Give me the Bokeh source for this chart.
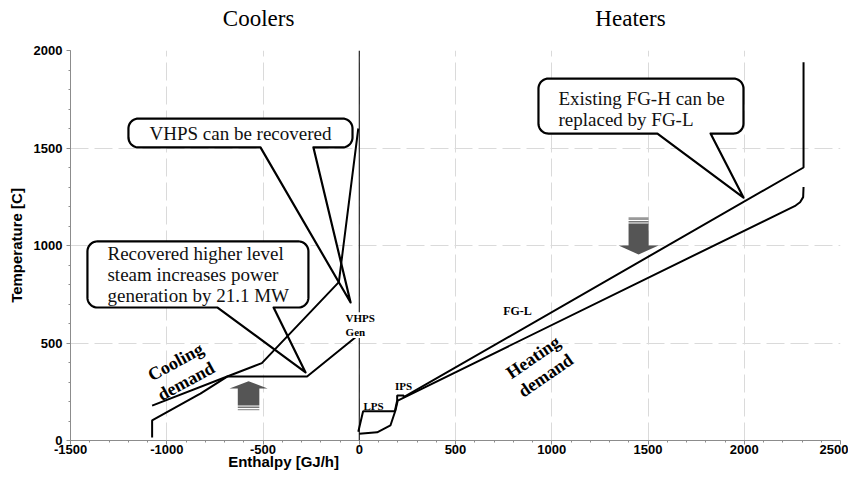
import numpy as np
from bokeh.plotting import figure
from bokeh.models import Label, Span, SingleIntervalTicker, FixedTicker, LinearAxis
from bokeh.embed import file_html
from bokeh.resources import INLINE

# ---------------- data ----------------
# existing hot composite curve (coolers / cooling demand)
hot_x = [-1076, -1076, -842, -825, -686, -271, 0]
hot_y = [15, 103, 231, 240, 328, 328, 545]
# hot curve with recovered higher-level steam (VHPS)
new_hot_x = [-1076, -686, -506, -106, -5]
new_hot_y = [179, 328, 397, 812, 1600]
# cold composite curve (heaters / heating demand)
cold_x = [0, 93, 162, 188, 200, 2267, 2290, 2306, 2308]
cold_y = [35, 42, 77, 154, 205, 1205, 1222, 1248, 1300]
# utility line LPS / IPS / FG-L
fg_x = [-5, 20, 185, 197, 197, 231, 231, 2308, 2308]
fg_y = [45, 150, 150, 205, 231, 231, 222, 1400, 1940]

x_range = (-1500, 2500)
y_range = (0, 2000)
tick_interval = 500
neg_tick_labels = {-1500: "-1500", -1000: "-1000", -500: "-500"}

# section titles above the plot and x-axis title position
section_titles = {-523: "Coolers", 1409: "Heaters"}
x_title = {-393: "Enthalpy [GJ/h]"}

# callouts
callout_texts = ["VHPS can be recovered",
                 "Recovered higher level\nsteam increases power\ngeneration by 21.1 MW",
                 "Existing FG-H can be\nreplaced by FG-L"]
box_x0 = [-1199, -1412, 931]
box_x1 = [-35, -264, 1996]
box_y0 = [1503, 682, 1574]
box_y1 = [1651, 1021, 1856]
tail_x0 = [-513, -736, 1549]
tail_x1 = [-238, -445, 1825]
tip_x = [-45, -279, 1996]
tip_y = [708, 349, 1246]
text_x = [-617, -1308, 1035]
text_y = [1572, 851, 1700]
text_align = ["center", "left", "left"]

# block arrows (up: cooling side, down: heating side)
arrow_x = [-575, 1451]
arrow_tail = [180, 1113]
arrow_neck = [267, 1000]
arrow_tip = [304, 954]
shaft_half = [56, 52]
head_half = [99, 104]
stripe_a0 = [175, 1118]
stripe_a1 = [167, 1126]
stripe_b0 = [162, 1131]
stripe_b1 = [155, 1145]

# small curve labels
lab_text = ["LPS", "IPS", "FG-L"]
lab_x = [74, 230, 822]
lab_y = [177, 282, 662]
lab_size = ["11px", "11px", "12px"]

FW, FH = 770, 390
sx = FW / (x_range[1] - x_range[0])
sy = FH / (y_range[1] - y_range[0])

p = figure(frame_width=FW, frame_height=FH, x_range=x_range, y_range=y_range,
           output_backend="svg", toolbar_location=None,
           min_border_left=70, min_border_top=50, min_border_right=8, min_border_bottom=36)
p.outline_line_color = None

p.xaxis.ticker = SingleIntervalTicker(interval=tick_interval, num_minor_ticks=5)
p.yaxis.ticker = SingleIntervalTicker(interval=tick_interval, num_minor_ticks=5)
p.xaxis.major_label_overrides = neg_tick_labels
for ax in (p.xaxis, p.yaxis):
    ax.axis_line_color = "#8c8c8c"
    ax.major_tick_line_color = "#8c8c8c"
    ax.minor_tick_line_color = "#8c8c8c"
    ax.major_tick_in = 0
    ax.major_tick_out = 4
    ax.minor_tick_in = 0
    ax.minor_tick_out = 2
    ax.major_label_text_font = "Liberation Sans"
    ax.major_label_text_font_style = "bold"
    ax.major_label_text_font_size = "13px"
    ax.major_label_text_color = "black"
p.yaxis.major_label_standoff = 4
p.xaxis.major_label_standoff = 0
p.yaxis.axis_label = "Temperature [C]"
p.yaxis.axis_label_text_font = "Liberation Sans"
p.yaxis.axis_label_text_font_style = "bold"
p.yaxis.axis_label_text_font_size = "15px"
p.yaxis.axis_label_text_color = "black"
p.yaxis.axis_label_standoff = 6


def text_axis(ticks_labels, font, size, style, standoff):
    ax = LinearAxis(ticker=FixedTicker(ticks=list(ticks_labels.keys())),
                    major_label_overrides=ticks_labels)
    ax.axis_line_color = None
    ax.major_tick_line_color = None
    ax.minor_tick_line_color = None
    ax.major_tick_out = 0
    ax.major_tick_in = 0
    ax.major_label_text_font = font
    ax.major_label_text_font_size = size
    ax.major_label_text_font_style = style
    ax.major_label_text_color = "black"
    ax.major_label_standoff = standoff
    return ax


p.add_layout(text_axis(section_titles, "Liberation Serif", "23px", "normal", 20), "above")
p.add_layout(text_axis(x_title, "Liberation Sans", "15px", "bold", -4), "below")

for g in (p.xgrid, p.ygrid):
    g.grid_line_color = "#dadada"
    g.grid_line_dash = "18 6"
    g.grid_line_width = 1

p.add_layout(Span(location=0, dimension="height", line_color="black", line_width=1))

# callouts
for i in range(len(callout_texts)):
    rx = 10 / sx
    ry = min(10 / sy, (box_y1[i] - box_y0[i]) / 2)
    x0, x1, y0, y1 = box_x0[i], box_x1[i], box_y0[i], box_y1[i]
    xs = [tail_x0[i], tip_x[i], tail_x1[i], x1 - rx]
    ys = [y0, tip_y[i], y0, y0]
    for cx, cy, a0, a1 in [(x1 - rx, y0 + ry, -90, 0), (x1 - rx, y1 - ry, 0, 90),
                           (x0 + rx, y1 - ry, 90, 180), (x0 + rx, y0 + ry, 180, 270)]:
        t = np.radians(np.linspace(a0, a1, 12))
        xs += list(cx + rx * np.cos(t))
        ys += list(cy + ry * np.sin(t))
    xs.append(tail_x0[i])
    ys.append(y0)
    p.patch(xs, ys, fill_color="white", line_color="black", line_width=2.2, line_join="round")
    p.add_layout(Label(x=text_x[i], y=text_y[i], text=callout_texts[i],
                       text_font="Liberation Serif", text_font_size="19px",
                       text_align=text_align[i], text_baseline="middle",
                       text_line_height=1.0, text_color="#111111"))

# arrows
for i in range(2):
    cx = arrow_x[i]
    xs = [cx - shaft_half[i], cx - shaft_half[i], cx - head_half[i], cx,
          cx + head_half[i], cx + shaft_half[i], cx + shaft_half[i]]
    ys = [arrow_tail[i], arrow_neck[i], arrow_neck[i], arrow_tip[i],
          arrow_neck[i], arrow_neck[i], arrow_tail[i]]
    p.patch(xs, ys, fill_color="#555555", line_color=None)
    p.quad(left=cx - shaft_half[i], right=cx + shaft_half[i],
           bottom=min(stripe_a0[i], stripe_a1[i]), top=max(stripe_a0[i], stripe_a1[i]),
           fill_color="#777777", line_color=None)
    p.quad(left=cx - shaft_half[i], right=cx + shaft_half[i],
           bottom=min(stripe_b0[i], stripe_b1[i]), top=max(stripe_b0[i], stripe_b1[i]),
           fill_color="#999999", line_color=None)

# curves
p.line(hot_x, hot_y, line_color="black", line_width=2)
p.line(new_hot_x, new_hot_y, line_color="black", line_width=2)
p.line(cold_x, cold_y, line_color="black", line_width=2)
p.line(fg_x, fg_y, line_color="black", line_width=2)

# labels on curves
for t, x, y, s in zip(lab_text, lab_x, lab_y, lab_size):
    p.add_layout(Label(x=x, y=y, text=t, text_font="Liberation Serif", text_font_style="bold",
                       text_font_size=s, text_align="center", text_baseline="middle",
                       text_color="black"))
p.add_layout(Label(x=-71, y=592, text="VHPS\nGen", text_font="Liberation Serif",
                   text_font_style="bold", text_font_size="11px", text_align="left",
                   text_baseline="middle", text_line_height=1.15, text_color="black",
                   background_fill_color="white"))
p.add_layout(Label(x=-927, y=354, text="Cooling\ndemand", angle=np.radians(28.5),
                   text_font="Liberation Serif", text_font_style="bold", text_font_size="18px",
                   text_align="center", text_baseline="middle", text_line_height=1.1,
                   text_color="black"))
p.add_layout(Label(x=936, y=380, text="Heating\ndemand", angle=np.radians(34.5),
                   text_font="Liberation Serif", text_font_style="bold", text_font_size="18px",
                   text_align="center", text_baseline="middle", text_line_height=1.1,
                   text_color="black"))

open("out.html", "w").write(file_html(p, INLINE))
